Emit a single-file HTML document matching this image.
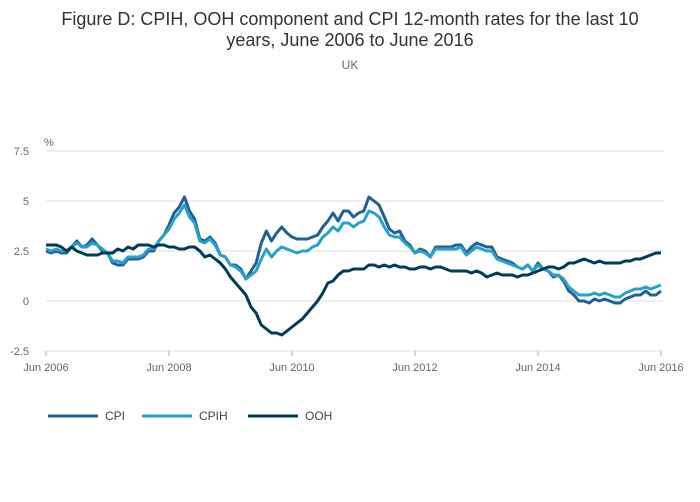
<!DOCTYPE html>
<html><head><meta charset="utf-8"><style>
body{margin:0;background:#fff;font-family:"Liberation Sans",sans-serif}
#wrap{position:relative;width:700px;height:502px;overflow:hidden}
</style></head><body>
<div id="wrap">
<svg id="chart" width="700" height="502"></svg>
</div>
<script>
const cpi=[2.5,2.4,2.5,2.4,2.4,2.7,3.0,
2.7,2.8,3.1,2.8,2.5,2.4,1.9,1.8,1.8,2.1,2.1,2.1,
2.2,2.5,2.5,3.0,3.3,3.8,4.4,4.7,5.2,4.5,4.1,3.1,
3.0,3.2,2.9,2.3,2.2,1.8,1.8,1.6,1.1,1.5,1.9,2.9,
3.5,3.0,3.4,3.7,3.4,3.2,3.1,3.1,3.1,3.2,3.3,3.7,
4.0,4.4,4.0,4.5,4.5,4.2,4.4,4.5,5.2,5.0,4.8,4.2,
3.6,3.4,3.5,3.0,2.8,2.4,2.6,2.5,2.2,2.7,2.7,2.7,
2.7,2.8,2.8,2.4,2.7,2.9,2.8,2.7,2.7,2.2,2.1,2.0,
1.9,1.7,1.6,1.8,1.5,1.9,1.6,1.5,1.2,1.3,1.0,0.5,
0.3,0.0,0.0,-0.1,0.1,0.0,0.1,0.0,-0.1,-0.1,0.1,0.2,
0.3,0.3,0.5,0.3,0.3,0.5];
const cpih=[2.6,2.5,2.6,2.5,2.5,2.7,2.9,
2.7,2.7,2.9,2.8,2.6,2.4,2.0,2.0,1.9,2.2,2.2,2.2,
2.3,2.6,2.6,3.0,3.3,3.6,4.1,4.4,4.8,4.2,3.9,3.0,
2.9,3.1,2.8,2.3,2.2,1.8,1.7,1.5,1.1,1.3,1.5,2.1,
2.6,2.2,2.5,2.7,2.6,2.5,2.4,2.5,2.5,2.7,2.8,3.2,
3.4,3.7,3.5,3.9,3.9,3.7,3.9,4.0,4.5,4.4,4.2,3.7,
3.3,3.2,3.2,2.9,2.7,2.4,2.5,2.4,2.2,2.6,2.6,2.6,
2.6,2.6,2.7,2.3,2.5,2.7,2.6,2.5,2.5,2.1,2.0,1.9,
1.8,1.7,1.6,1.8,1.5,1.8,1.6,1.5,1.3,1.3,1.1,0.7,
0.5,0.3,0.3,0.3,0.4,0.3,0.4,0.3,0.2,0.2,0.4,0.5,
0.6,0.6,0.7,0.6,0.7,0.8];
const ooh=[2.8,2.8,2.8,2.7,2.5,2.7,2.5,
2.4,2.3,2.3,2.3,2.4,2.4,2.4,2.6,2.5,2.7,2.6,2.8,
2.8,2.8,2.7,2.8,2.8,2.7,2.7,2.6,2.6,2.7,2.7,2.5,
2.2,2.3,2.1,1.9,1.6,1.2,0.9,0.6,0.3,-0.3,-0.6,-1.2,
-1.4,-1.6,-1.6,-1.7,-1.5,-1.3,-1.1,-0.9,-0.6,-0.3,0.0,0.4,
0.9,1.0,1.3,1.5,1.5,1.6,1.6,1.6,1.8,1.8,1.7,1.8,
1.7,1.8,1.7,1.7,1.6,1.6,1.7,1.7,1.6,1.7,1.7,1.6,
1.5,1.5,1.5,1.5,1.4,1.5,1.4,1.2,1.3,1.4,1.3,1.3,
1.3,1.2,1.3,1.3,1.4,1.5,1.6,1.7,1.7,1.6,1.7,1.9,
1.9,2.0,2.1,2.0,1.9,2.0,1.9,1.9,1.9,1.9,2.0,2.0,
2.1,2.1,2.2,2.3,2.4,2.4];
const yTicks=[-2.5,0,2.5,5,7.5];
const yTickLabels=["-2.5","0","2.5","5","7.5"];
const xTickMonths=[0,24,48,72,96,120];
const xTickLabels=["Jun 2006","Jun 2008","Jun 2010","Jun 2012","Jun 2014","Jun 2016"];
const seriesNames=["CPI","CPIH","OOH"];

const NS="http://www.w3.org/2000/svg";
const svg=document.getElementById('chart');
const X0=46,X1=661,Y0=301,PX=20;
const xs=i=>X0+(X1-X0)*i/120;
const ys=v=>Y0-v*PX;
function el(t,a,txt){const e=document.createElementNS(NS,t);for(const k in a)e.setAttribute(k,a[k]);if(txt!==undefined)e.textContent=txt;svg.appendChild(e);return e;}

let t=el('text',{x:350,y:25,'text-anchor':'middle','font-size':18,fill:'#333'},'Figure D: CPIH, OOH component and CPI 12-month rates for the last 10');


t=el('text',{x:350,y:46,'text-anchor':'middle','font-size':18,fill:'#333'},'years, June 2006 to June 2016');


t=el('text',{x:350,y:69,'text-anchor':'middle','font-size':12,fill:'#666'},'UK');


t=el('text',{x:44,y:146,'font-size':11,fill:'#666'},'%');



yTicks.forEach((v,i)=>{
 const g=el('line',{x1:X0,x2:X1+4,y1:ys(v),y2:ys(v),stroke:'#e2e2e2','stroke-width':1});
 
 
 const l=el('text',{x:29,y:ys(v)+4,'text-anchor':'end','font-size':11,fill:'#666'},yTickLabels[i]);
 
 
});
xTickMonths.forEach((m,i)=>{
 const k=el('line',{x1:xs(m),x2:xs(m),y1:ys(-2.5),y2:ys(-2.5)+5,stroke:'#aaa','stroke-width':1});
 
 
 const l=el('text',{x:xs(m),y:371,'text-anchor':'middle','font-size':11,fill:'#666'},xTickLabels[i]);
 
 
});
const data=[cpi,cpih,ooh],cols=['#206095','#27a0cc','#003c57'];
data.forEach((d,s)=>{
 const p=el('path',{d:d.map((v,i)=>(i?'L':'M')+xs(i).toFixed(1)+','+ys(v).toFixed(1)).join(''),fill:'none',stroke:cols[s],'stroke-width':3,'stroke-linejoin':'round'});
 
 
});
const lx=[48,142,248];
seriesNames.forEach((n,s)=>{
 const l=el('line',{x1:lx[s],x2:lx[s]+50,y1:416,y2:416,stroke:cols[s],'stroke-width':3});
 
 
 const tt=el('text',{x:lx[s]+57,y:420,'font-size':12,fill:'#444'},n);
 
 
});
</script>
</body></html>
